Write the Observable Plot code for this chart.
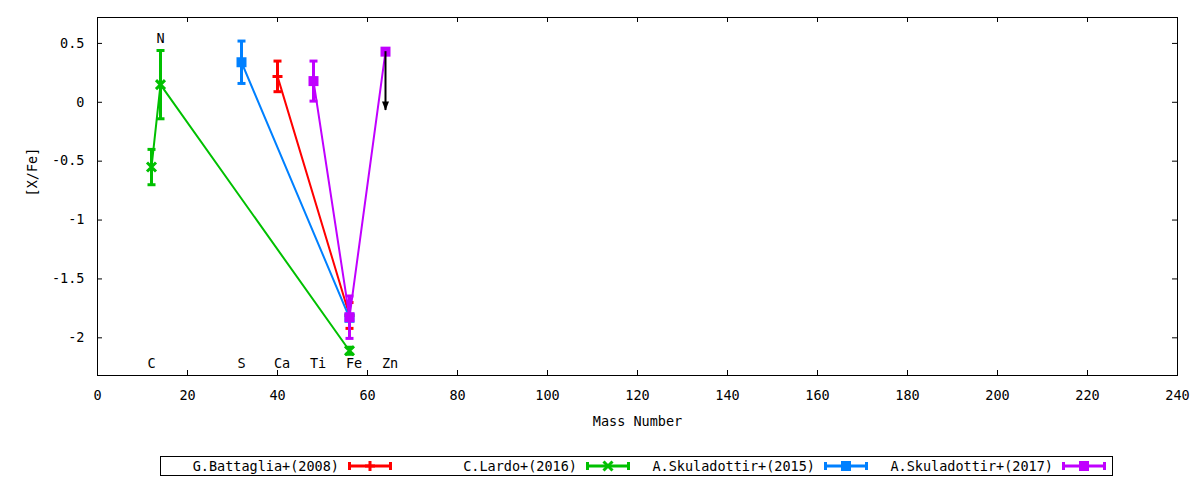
<!DOCTYPE html>
<html>
<head>
<meta charset="utf-8">
<script src="https://cdn.jsdelivr.net/npm/d3@7"></script>
<script src="https://cdn.jsdelivr.net/npm/@observablehq/plot@0.6"></script>
<style>
  body { margin: 0; background: white; }
  #wrap { position: relative; width: 1200px; height: 480px; }
  #legend {
    position: absolute; left: 160px; top: 456px; width: 953px; height: 20px;
    border: 1px solid black; box-sizing: border-box;
    font-family: "DejaVu Sans Mono", monospace; font-size: 13.5px;
  }
  #legend span { position: absolute; top: 1px; text-align: right; white-space: nowrap; }
  #legend svg { position: absolute; top: 0; }
</style>
</head>
<body>
<div id="wrap">
  <div id="chart"></div>
  <div id="legend"></div>
</div>
<script>
// G.Battaglia+(2008)
const battagliaMass = [40, 56];
const battagliaXFe = [0.22, -1.81];
const battagliaErr = [0.13, 0.11];

// C.Lardo+(2016)
const lardoMass = [12, 14, 56];
const lardoXFe = [-0.55, 0.15, -2.11];
const lardoErr = [0.15, 0.29, 0.03];

// A.Skuladottir+(2015)
const skul15Mass = [32, 56];
const skul15XFe = [0.34, -1.83];
const skul15Err = [0.18, 0];

// A.Skuladottir+(2017)
const skul17Mass = [48, 56, 64];
const skul17XFe = [0.18, -1.825, 0.43];
const skul17Err = [0.17, 0.18, 0];

// Zn upper limit arrow
const limitMass = [64];
const limitFrom = [0.43];
const limitTo = [-0.07];

// element labels
const elemNames = ["C", "N", "S", "Ca", "Ti", "Fe", "Zn"];
const elemMass = [12, 14, 32, 41, 49, 57, 65];
const elemY = [-2.22, 0.54, -2.22, -2.22, -2.22, -2.22, -2.22];

const xTicks = [0, 20, 40, 60, 80, 100, 120, 140, 160, 180, 200, 220, 240];
const yTicks = [-2, -1.5, -1, -0.5, 0, 0.5];

// gnuplot-like point shapes (size -> radius)
const rad = s => Math.sqrt(s / Math.PI);
const capSym = {draw(c, s) { const r = rad(s); c.moveTo(-r, 0); c.lineTo(r, 0); }};
const plusSym = {draw(c, s) { const r = rad(s); c.moveTo(-r, 0); c.lineTo(r, 0); c.moveTo(0, -r); c.lineTo(0, r); }};
const crossSym = {draw(c, s) { const r = rad(s); c.moveTo(-r, -r); c.lineTo(r, r); c.moveTo(-r, r); c.lineTo(r, -r); }};
const squareSym = {draw(c, s) { const r = rad(s); c.rect(-r, -r, 2 * r, 2 * r); }};
const headSym = {draw(c, s) { c.moveTo(0, 0); c.lineTo(-3.5, -9); c.lineTo(3.5, -9); c.closePath(); }};

const series = [
  {name: "G.Battaglia+(2008)", color: "#ff0000", symbol: plusSym, filled: false, r: 5, mass: battagliaMass, xfe: battagliaXFe, err: battagliaErr},
  {name: "C.Lardo+(2016)", color: "#00c000", symbol: crossSym, filled: false, r: 4.5, mass: lardoMass, xfe: lardoXFe, err: lardoErr},
  {name: "A.Skuladottir+(2015)", color: "#0080ff", symbol: squareSym, filled: true, r: 5, mass: skul15Mass, xfe: skul15XFe, err: skul15Err},
  {name: "A.Skuladottir+(2017)", color: "#c000ff", symbol: squareSym, filled: true, r: 5, mass: skul17Mass, xfe: skul17XFe, err: skul17Err}
];

function rows(s) {
  return s.mass.map((m, i) => ({mass: m, xfe: s.xfe[i], err: s.err[i]}));
}

function seriesMarks(s) {
  let data = rows(s);
  let bars = data.filter(d => d.err > 0);
  return [
    Plot.ruleX(bars, {x: "mass", y1: d => d.xfe - d.err, y2: d => d.xfe + d.err, stroke: s.color, strokeWidth: 3}),
    Plot.dot(bars, {x: "mass", y: d => d.xfe + d.err, symbol: capSym, r: 4, fill: "none", stroke: s.color, strokeWidth: 3}),
    Plot.dot(bars, {x: "mass", y: d => d.xfe - d.err, symbol: capSym, r: 4, fill: "none", stroke: s.color, strokeWidth: 3}),
    Plot.line(data, {x: "mass", y: "xfe", stroke: s.color, strokeWidth: 2}),
    s.filled
      ? Plot.dot(data, {x: "mass", y: "xfe", symbol: s.symbol, r: s.r, fill: s.color, stroke: "none"})
      : Plot.dot(data, {x: "mass", y: "xfe", symbol: s.symbol, r: s.r, fill: "none", stroke: s.color, strokeWidth: 3})
  ];
}

const limits = limitMass.map((m, i) => ({mass: m, from: limitFrom[i], to: limitTo[i]}));
const labels = elemNames.map((n, i) => ({name: n, mass: elemMass[i], y: elemY[i]}));

const frameW = 1200 - 97 - 23;
const frameH = 480 - 17 - 105;
const tickLen = 5;

let plot = Plot.plot({
  width: 1200,
  height: 480,
  marginLeft: 97,
  marginRight: 23,
  marginTop: 17,
  marginBottom: 105,
  style: {fontFamily: "DejaVu Sans Mono, monospace", fontSize: "13.5px", background: "white", color: "black", overflow: "visible"},
  x: {domain: [0, 240], ticks: xTicks, tickSize: 0, tickPadding: 15, label: null},
  y: {domain: [-2.32, 0.72], ticks: yTicks, tickSize: 0, tickPadding: 13, tickFormat: d => String(d), label: null},
  marks: [
    // inward ticks, mirrored on all sides
    Plot.tickX(xTicks, {x: d => d, insetTop: frameH - tickLen, stroke: "black"}),
    Plot.tickX(xTicks, {x: d => d, insetBottom: frameH - tickLen, stroke: "black"}),
    Plot.tickY(yTicks, {y: d => d, insetRight: frameW - tickLen, stroke: "black"}),
    Plot.tickY(yTicks, {y: d => d, insetLeft: frameW - tickLen, stroke: "black"}),
    Plot.frame({stroke: "black"}),
    Plot.text(labels, {x: "mass", y: "y", text: "name", fill: "black"}),
    ...series.flatMap(seriesMarks),
    Plot.ruleX(limits, {x: "mass", y1: "from", y2: "to", stroke: "black", strokeWidth: 2}),
    Plot.dot(limits, {x: "mass", y: "to", symbol: headSym, r: 5, fill: "black", stroke: "none"}),
    Plot.text(["Mass Number"], {text: d => d, frameAnchor: "bottom", dy: 50, fill: "black"}),
    Plot.text(["[X/Fe]"], {text: d => d, frameAnchor: "left", dx: -65, rotate: -90, fill: "black"})
  ]
});

document.querySelector("#chart").append(plot);

// legend below the frame
const legend = document.getElementById("legend");
series.forEach((s, i) => {
  let sampleLeft = 187 + 238 * i;
  let label = document.createElement("span");
  label.textContent = s.name;
  label.style.right = (953 - sampleLeft + 7) + "px";
  legend.append(label);

  let svg = d3.create("svg").attr("width", 44).attr("height", 18).style("left", sampleLeft + "px");
  let cy = 9;
  svg.append("line").attr("x1", 1.5).attr("x2", 42.5).attr("y1", cy).attr("y2", cy)
    .attr("stroke", s.color).attr("stroke-width", 3);
  [1.5, 42.5].forEach(x => svg.append("line").attr("x1", x).attr("x2", x).attr("y1", cy - 4).attr("y2", cy + 4)
    .attr("stroke", s.color).attr("stroke-width", 3));
  let p = d3.path();
  s.symbol.draw(p, s.r * s.r * Math.PI);
  svg.append("path").attr("d", p.toString()).attr("transform", `translate(22,${cy})`)
    .attr("fill", s.filled ? s.color : "none").attr("stroke", s.filled ? "none" : s.color).attr("stroke-width", 3);
  legend.append(svg.node());
});
</script>
</body>
</html>
